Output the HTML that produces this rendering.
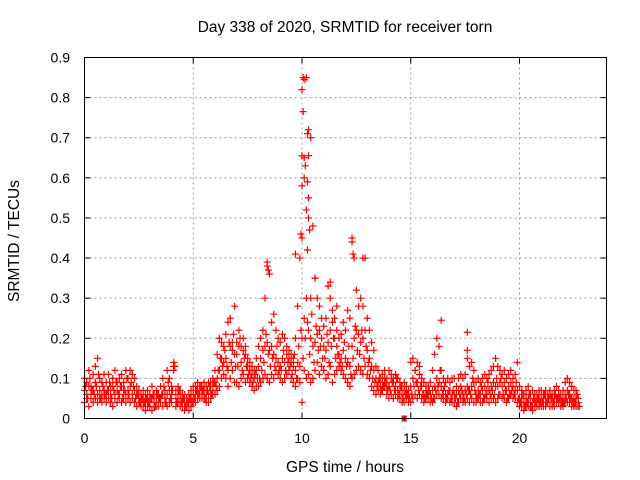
<!DOCTYPE html>
<html><head><meta charset="utf-8"><style>
body{margin:0;background:#fff;}
svg{display:block;font-family:"Liberation Sans",sans-serif;}
</style></head><body>
<svg id="chart" width="640" height="480" viewBox="0 0 640 480" xmlns="http://www.w3.org/2000/svg">
<rect width="640" height="480" fill="#fff"/>
<g id="grid"></g>
<g id="ticks"></g>
<g id="marks"></g>
<rect x="84.5" y="57.5" width="522" height="361" fill="none" stroke="#000" stroke-width="1"/>
<text x="345" y="32" font-size="15.5" text-anchor="middle">Day 338 of 2020, SRMTID for receiver torn</text>
<text x="345" y="472" font-size="15.5" text-anchor="middle">GPS time / hours</text>
<text transform="translate(19,241) rotate(-90)" font-size="15.5" text-anchor="middle">SRMTID / TECUs</text>
</svg>
<script>
const xTicks=[0,5,10,15,20];
const yTicks=[0,0.1,0.2,0.3,0.4,0.5,0.6,0.7,0.8,0.9];
const yTickLabels=["0","0.1","0.2","0.3","0.4","0.5","0.6","0.7","0.8","0.9"];
const startHour=0, stepHour=0.1;
const lowBand=[.04,.05,.03,.05,.04,.05,.04,.05,.04,.05, .04,.05,.04,.03,.05,.04,.05,.04,.05,.04, .05,.04,.05,.04,.03,.04,.03,.03,.02,.03, .03,.02,.03,.03,.03,.04,.03,.04,.03,.04, .04,.13,.03,.04,.03,.03,.02,.03,.02,.03, .04,.04,.05,.05,.05,.05,.04,.04,.05,.06, .06,.07,.08,.10,.11,.10,.08,.10,.12,.09, .09,.08,.10,.11,.09,.10,.09,.08,.07,.08, .08,.09,.10,.11,.10,.09,.11,.10,.12,.11, .10,.09,.10,.11,.12,.10,.09,.08,.10,.09, .04,.12,.10,.11,.09,.10,.12,.14,.11,.13, .12,.10,.11,.13,.09,.11,.12,.13,.12,.11, .10,.09,.08,.10,.11,.12,.13,.12,.11,.13, .11,.10,.08,.07,.06,.07,.06,.07,.08,.06, .05,.06,.05,.06,.05,.05,.04,.04,.05,.04, .04,.05,.06,.05,.06,.05,.04,.05,.05,.04, .04,.05,.06,.06,.05,.05,.04,.05,.04,.04, .04,.03,.04,.05,.04,.04,.05,.04,.05,.04, .04,.05,.04,.04,.05,.05,.04,.05,.05,.04, .05,.06,.05,.05,.04,.05,.06,.05,.05,.04, .03,.03,.02,.03,.03,.03,.02,.03,.03,.03, .03,.03,.03,.04,.03,.03,.03,.04,.04,.03, .03,.04,.04,.04,.03,.03,.03,.03];
const midBand=[.07,.06,.08,.06,.07,.09,.06,.07,.06,.07, .06,.07,.06,.08,.06,.07,.06,.08,.07,.06, .07,.08,.06,.07,.06,.05,.05,.05,.04,.05, .04,.05,.04,.05,.04,.05,.06,.05,.06,.07, .06,.14,.05,.06,.05,.05,.04,.05,.04,.05, .06,.06,.07,.07,.06,.07,.06,.06,.07,.08, .09,.10,.12,.15,.14,.15,.12,.18,.17,.16, .16,.18,.14,.17,.16,.13,.12,.11,.10,.12, .13,.15,.17,.18,.19,.17,.18,.16,.15,.14, .13,.15,.14,.16,.15,.14,.13,.12,.14,.13, .20,.25,.30,.22,.20,.18,.19,.21,.22,.20, .18,.17,.19,.22,.24,.20,.18,.16,.15,.17, .15,.14,.13,.18,.20,.22,.21,.19,.20,.22, .17,.15,.13,.12,.10,.09,.08,.09,.10,.08, .08,.10,.09,.08,.07,.07,.06,.07,.07,.06, .08,.10,.12,.09,.11,.08,.06,.07,.06,.06, .07,.08,.10,.09,.08,.07,.06,.06,.07,.06, .06,.06,.07,.08,.06,.07,.08,.07,.08,.09, .06,.07,.06,.07,.08,.07,.07,.08,.09,.08, .08,.09,.08,.09,.07,.08,.09,.08,.07,.07, .05,.05,.04,.05,.05,.04,.04,.05,.04,.05, .05,.05,.05,.05,.06,.05,.05,.05,.06,.05, .05,.06,.07,.06,.05,.05,.05,.04];
const highBand=[.10,.09,.12,.08,.11,.13,.15,.10,.09,.11, .09,.11,.08,.10,.12,.09,.10,.11,.09,.12, .10,.12,.11,.10,.08,.07,.06,.07,.06,.07, .06,.08,.06,.07,.06,.08,.10,.07,.12,.10, .08,.12,.07,.08,.07,.06,.06,.05,.06,.07, .08,.08,.09,.08,.08,.09,.08,.09,.09,.10, .12,.16,.20,.19,.18,.21,.24,.25,.19,.28, .19,.22,.18,.20,.18,.15,.14,.13,.12,.15, .18,.20,.22,.30,.38,.36,.24,.26,.22,.20, .19,.21,.20,.18,.17,.16,.15,.20,.28,.40, .45,.65,.85,.55,.70,.48,.35,.30,.28,.25, .23,.25,.33,.30,.27,.25,.22,.20,.21,.24, .22,.27,.25,.44,.40,.32,.28,.30,.28,.40, .25,.22,.19,.17,.13,.12,.10,.11,.12,.10, .12,.11,.10,.11,.10,.09,.08,.09,.08,.07, .14,.15,.12,.14,.13,.10,.09,.08,.08,.09, .12,.16,.20,.18,.12,.10,.09,.10,.09,.10, .10,.08,.10,.11,.10,.11,.15,.13,.14,.12, .09,.10,.09,.10,.11,.10,.11,.12,.13,.15, .13,.12,.11,.12,.10,.11,.12,.10,.11,.14, .08,.07,.06,.07,.08,.06,.07,.06,.06,.07, .07,.06,.07,.06,.07,.06,.07,.08,.07,.06, .07,.09,.10,.09,.08,.07,.07,.05];
const fillStart=0.05;
const fillBand=[.08,.05,.10,.07,.06,.08,.11,.05,.08,.06, .07,.09,.05,.07,.09,.06,.08,.05,.07,.10, .06,.09,.08,.05,.06,.04,.05,.04,.05,.04, .05,.06,.03,.06,.05,.06,.08,.04,.09,.05, .07,.13,.04,.07,.04,.05,.03,.04,.05,.04, .05,.07,.06,.08,.07,.05,.07,.08,.06,.09, .08,.12,.15,.13,.17,.13,.19,.14,.21,.13, .13,.20,.12,.15,.13,.11,.10,.09,.11,.10, .10,.12,.14,.21,.16,.13,.15,.13,.18,.12, .12,.17,.12,.14,.13,.11,.16,.10,.18,.22, .15,.20,.24,.16,.26,.14,.23,.17,.18,.15, .15,.21,.14,.18,.20,.15,.16,.14,.13,.19, .13,.18,.11,.15,.23,.17,.16,.22,.15,.18, .14,.12,.10,.09,.08,.10,.07,.08,.09,.07, .07,.09,.07,.10,.06,.08,.05,.06,.06,.05, .06,.08,.09,.07,.08,.06,.05,.06,.07,.05, .05,.07,.08,.12,.06,.08,.05,.07,.05,.07, .05,.04,.06,.07,.05,.06,.07,.06,.10,.07, .05,.06,.08,.05,.06,.09,.06,.07,.06,.10, .06,.10,.06,.07,.05,.06,.07,.06,.09,.05, .04,.06,.03,.04,.06,.03,.05,.04,.05,.04, .04,.06,.04,.05,.05,.04,.06,.05,.05,.04, .04,.05,.06,.05,.04,.04,.06,.03];
const outlierHours=[10.05,10.1,10.0,10.05,10.3,10.25,10.3,10.0,10.1,10.25,10.0,10.2,10.3,10.35,9.95,10.25,12.3,12.8,16.4,17.6,17.6,8.4,8.45,9.7,10.6,11.3,10.15,10.4,12.35,11.6];
const outlierValues=[.85,.845,.82,.765,.72,.71,.655,.655,.6,.59,.58,.52,.5,.47,.46,.42,.45,.4,.245,.215,.17,.39,.37,.41,.35,.34,.63,.3,.41,.28];
const zeroFlagHours=[14.7];

const X0=84.5,XW=522,XMAX=24,Y0=418.5,YH=361,YMAX=0.9;
const xs=h=>X0+h/XMAX*XW;
const ys=v=>Y0-v/YMAX*YH;
const NS="http://www.w3.org/2000/svg";
const grid=document.getElementById('grid'),ticks=document.getElementById('ticks'),marks=document.getElementById('marks');
function mk(tag,attrs,parent){const e=document.createElementNS(NS,tag);for(const k in attrs)e.setAttribute(k,attrs[k]);parent.appendChild(e);return e;}
xTicks.forEach(t=>{
  const x=xs(t);
  if(t>0){const g=mk('line',{x1:x,x2:x,y1:57.5,y2:Y0,stroke:'#999','stroke-dasharray':'2,3'},grid);
  
  }
  mk('line',{x1:x,x2:x,y1:Y0,y2:Y0-6,stroke:'#000'},ticks);
  mk('line',{x1:x,x2:x,y1:57.5,y2:63.5,stroke:'#000'},ticks);
  const l=mk('text',{x:x,y:443,'font-size':14,'text-anchor':'middle'},ticks);l.textContent=t;
  
  
});
yTicks.forEach((t,i)=>{
  const y=ys(t);
  if(i>0&&i<yTicks.length-1){const g=mk('line',{x1:X0,x2:606.5,y1:y,y2:y,stroke:'#999','stroke-dasharray':'2,3'},grid);
  
  }
  mk('line',{x1:X0,x2:X0+6,y1:y,y2:y,stroke:'#000'},ticks);
  mk('line',{x1:600.5,x2:606.5,y1:y,y2:y,stroke:'#000'},ticks);
  const l=mk('text',{x:70,y:y+5,'font-size':14,'text-anchor':'end'},ticks);l.textContent=yTickLabels[i];
  
  
});
function plus(h,v){const x=xs(h),y=ys(v);return `M${x-3.5},${y}h7M${x},${y-3.5}v7`;}
function series(arr,start,name){let d='';arr.forEach((v,i)=>{d+=plus(start+i*stepHour,v);});
  const p=mk('path',{d:d,stroke:'#f00','stroke-width':1.2,fill:'none'},marks);
  
  }
series(lowBand,startHour,'srmtid-low-band');
series(midBand,startHour,'srmtid-mid-band');
series(highBand,startHour,'srmtid-high-band');
series(fillBand,fillStart,'srmtid-fill-band');
let od='';outlierHours.forEach((h,i)=>{od+=plus(h,outlierValues[i]);});
const op=mk('path',{d:od,stroke:'#f00','stroke-width':1.2,fill:'none'},marks);


zeroFlagHours.forEach(h=>{const r=mk('rect',{x:xs(h)-2.5,y:Y0-3,width:5,height:6,fill:'#f00'},marks);
  
  });
</script>
</body></html>
